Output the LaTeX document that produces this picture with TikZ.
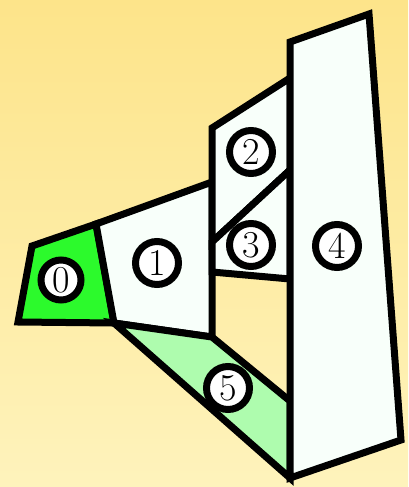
\documentclass[tikz,border=0pt]{standalone}
\usepackage{fontspec}
\definecolor{bgtop}{RGB}{253,228,138}
\definecolor{bgbot}{RGB}{254,243,188}
\definecolor{greenA}{RGB}{44,250,44}
\definecolor{greenB}{RGB}{174,252,174}
\definecolor{paleW}{RGB}{248,255,250}
\tikzset{
  face/.style={draw=black, line width=7pt, line join=miter},
  lbl/.style={circle, draw=black, line width=7pt, fill=white, minimum size=43pt, inner sep=0pt, font=\fontsize{38}{38}\selectfont},
}
\begin{document}
\begin{tikzpicture}[x=1pt,y=-1pt]
\shade[top color=bgtop, bottom color=bgbot] (0,0) rectangle (408,487);
\useasboundingbox (0,0) rectangle (408,487);
% faces
\filldraw[face, fill=greenA] (18,322) -- (32,246) -- (96,224) -- (114,323) -- cycle;
\filldraw[face, fill=paleW] (96,224) -- (212,182) -- (212,337) -- (114,323) -- cycle;
\filldraw[face, fill=greenB] (114,323) -- (212,337) -- (290,401) -- (290,478) -- cycle;
\filldraw[face, fill=paleW] (212,128) -- (290,78) -- (290,170) -- (212,242) -- cycle;
\filldraw[face, fill=paleW] (212,242) -- (290,170) -- (290,279) -- (212,272) -- cycle;
\filldraw[face, fill=paleW] (290,42) -- (369,14) -- (401,440) -- (290,478) -- cycle;
% labels
\node[lbl, minimum size=40pt] (l0) at (61,280) {0};
\node[lbl] (l1) at (157,263) {1};
\node[lbl] (l2) at (251,152) {2};
\node[lbl] (l3) at (251,245) {3};
\node[lbl] (l4) at (337,246) {4};
\node[lbl] (l5) at (228,388) {5};
\end{tikzpicture}
\end{document}
